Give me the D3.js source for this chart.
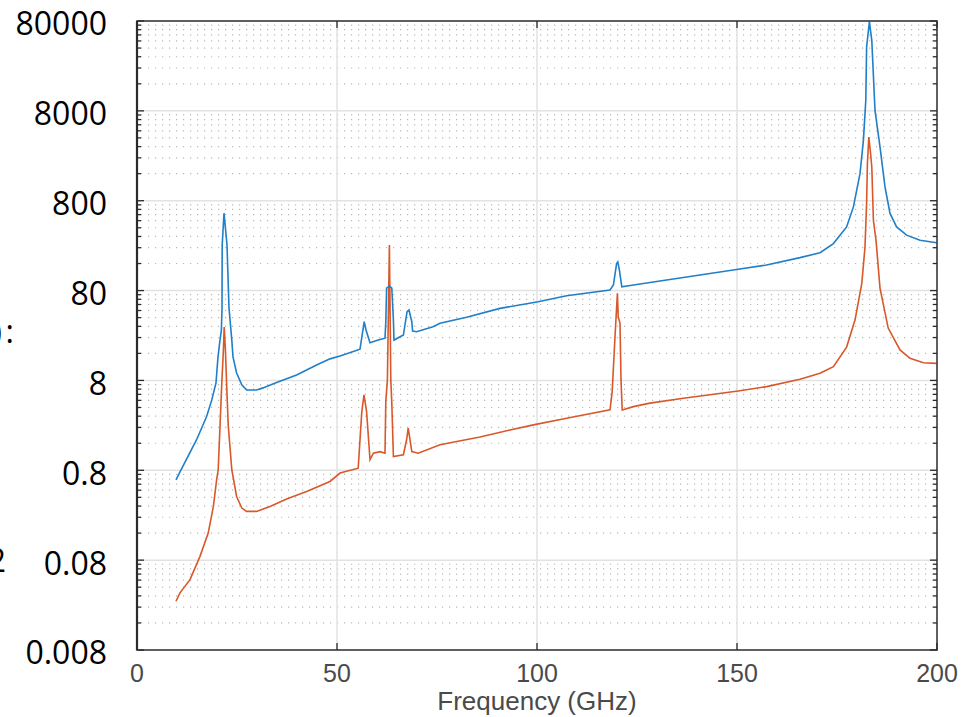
<!DOCTYPE html>
<html>
<head>
    <title>Frequency log chart</title>
    <meta charset="utf-8">
    <style type="text/css">
        body { margin: 0; background: #fff; }
        .ylab { font-family: "Open Sans", sans-serif; font-size: 32px; fill: #000; }
        .xlab { font-family: "Liberation Sans", Arial, sans-serif; font-size: 25px; fill: #4a4a4a; }
        .xtitle { font-family: "Liberation Sans", Arial, sans-serif; font-size: 26px; fill: #4a4a4a; }
        .grid-major { stroke: #e2e2e2; stroke-width: 1.5; }
        .grid-minor { stroke: #b8b8b8; stroke-width: 1.2; stroke-dasharray: 1.2,5.8; }
        .frame { fill: none; stroke: #2b2b2b; stroke-width: 1.5; }
        .tick { stroke: #2b2b2b; stroke-width: 1.3; }
    </style>
</head>
<body>
<svg class="chart" width="968" height="717"></svg>

<script src="https://cdnjs.cloudflare.com/ajax/libs/d3/7.8.5/d3.min.js"></script>
<script type="text/javascript">
    /*=========DATA=========*/
    var xTicks = [0, 50, 100, 150, 200];
    var yTicks = [0.008, 0.08, 0.8, 8, 80, 800, 8000, 80000];
    var yTickLabels = ['0.008', '0.08', '0.8', '8', '80', '800', '8000', '80000'];
    var minorSteps = [2, 3, 4, 5, 6, 7, 8, 9];

    // blue series (upper)
    var blueFreq = [9.75, 10.75, 14.9, 17.4, 18.7, 19.75, 20.25, 20.75, 21.1, 21.25, 21.3, 21.75, 22.5, 23, 23.7, 24,
        24.9, 26.2, 27.4, 29.9, 31.5, 34.9, 39.9, 44.9, 48.25, 50.75, 55.75, 56.8, 57.25, 58.25, 60.3, 62,
        62.2, 62.4, 63.1, 63.7, 64.1, 64.25, 66.6, 67.5, 68, 68.7, 68.9, 69.9, 74, 75.75, 82.4, 90.75,
        100.3, 107.4, 118.25, 119.1, 119.9, 120.2, 120.6, 121.2, 124.1, 132.4, 140.75, 150.3, 157.4, 165.75,
        170.75, 174.1, 177.4, 179.1, 180.75, 181.6, 182.2, 182.4, 183.1, 183.7, 184.5, 185.75, 187, 188.25,
        189.9, 192.4, 195.75, 199.9];
    var blueVals = [0.627, 0.769, 1.75, 3.17, 4.86, 7.5, 14.6, 22.5, 29.1, 51.2, 257, 581, 257, 51.2, 22.5, 14.6,
        9.68, 7.13, 6.27, 6.27, 6.61, 7.57, 9.21, 11.9, 13.9, 15.0, 17.8, 36.0, 29.1, 21.0, 22.5, 23.6,
        36.0, 85.3, 89.8, 85.3, 37.6, 22.5, 25.6, 46.2, 48.6, 36.0, 28.4, 27.9, 31.7, 34.6, 40.3, 50.7,
        60.1, 70.0, 81.1, 92.1, 160, 167, 135, 88.1, 92.1, 105, 119, 138, 154, 186,
        211, 267, 409, 683, 1600, 3760, 10500, 40900, 79000, 48500, 8110, 3170, 1140, 577,
        409, 331, 291, 272];

    // orange series (lower)
    var orangeFreq = [9.75, 10.75, 13.25, 15.75, 17.8, 19.1, 19.9, 20.3, 20.75, 21.2, 21.6, 21.8, 22.1, 22.4, 22.8, 23.7,
        24.9, 26.2, 27.4, 29.9, 33.25, 37.4, 42.4, 48.25, 50.75, 55.3, 56.2, 56.75, 57.4, 58.25, 59.1, 60.75,
        62, 62.2, 62.6, 63.1, 63.45, 63.7, 64.1, 66.6, 67.4, 67.8, 68.25, 68.7, 70.3, 75.75, 85.75, 93.25,
        99.1, 107.4, 118.25, 118.8, 119.5, 120.1, 120.3, 120.75, 121, 121.3, 124.1, 128.25, 136.6, 150.3,
        157.4, 165.75, 170.75, 174.1, 177.4, 179.5, 181.2, 182, 182.4, 182.6, 182.95, 183.4, 183.7, 184.1,
        184.75, 185.75, 187.8, 190.75, 193.25, 196.6, 199.9];
    var orangeVals = [0.0279, 0.0346, 0.0485, 0.0881, 0.160, 0.317, 0.627, 0.811, 2.45, 7.5, 17.5, 31.4, 17.5, 7.5, 2.56, 0.811,
        0.409, 0.304, 0.279, 0.279, 0.317, 0.383, 0.465, 0.601, 0.745, 0.845, 3.6, 5.52, 3.6, 1.05, 1.24, 1.29,
        1.24, 4.65, 8.11, 257, 8.11, 4.47, 1.14, 1.19, 1.75, 2.36, 1.75, 1.29, 1.24, 1.54, 1.88, 2.25,
        2.56, 3.04, 3.76, 6.01, 24.5, 74.5, 40.9, 34.6, 8.11, 3.76, 4.09, 4.47, 5.07, 6.11,
        6.82, 8.24, 9.62, 11.4, 18.8, 37.6, 96.2, 245, 745, 2070, 4090, 2670, 1900, 485,
        291, 85.3, 30.6, 17.5, 14.1, 12.6, 12.4];

    /*===========COLOR=======*/
    var blueColor = '#1f7fc8';
    var orangeColor = '#d9582a';

    /*=========computed============*/
    var plotLeft = 137, plotRight = 937, plotTop = 21, plotBottom = 650;

    var x = d3.scaleLinear().domain([0, 200]).range([plotLeft, plotRight]);
    var y = d3.scaleLog().domain([0.008, 80000]).range([plotBottom, plotTop]);

    var svg = d3.select('svg');

    svg.append('clipPath').attr('id', 'plotClip')
        .append('rect').attr('x', plotLeft).attr('y', plotTop)
        .attr('width', plotRight - plotLeft).attr('height', plotBottom - plotTop);

    // minor values
    var minorVals = [];
    yTicks.slice(0, -1).forEach(function (t) {
        minorSteps.forEach(function (m) { minorVals.push(t * m); });
    });

    // grid
    var grid = svg.append('g');
    grid.selectAll('.grid-minor').data(minorVals).enter().append('line')
        .attr('class', 'grid-minor')
        .attr('x1', plotLeft + 4).attr('x2', plotRight - 4)
        .attr('y1', d => y(d)).attr('y2', d => y(d));
    grid.selectAll('.gy').data(yTicks.slice(1, -1)).enter().append('line')
        .attr('class', 'grid-major gy')
        .attr('x1', plotLeft).attr('x2', plotRight)
        .attr('y1', d => y(d)).attr('y2', d => y(d));
    grid.selectAll('.gx').data(xTicks.slice(1, -1)).enter().append('line')
        .attr('class', 'grid-major gx')
        .attr('y1', plotTop).attr('y2', plotBottom)
        .attr('x1', d => x(d)).attr('x2', d => x(d));

    // lines
    var line = d3.line().x(d => x(d[0])).y(d => y(d[1]));
    var lines = svg.append('g').attr('clip-path', 'url(#plotClip)');
    lines.append('path')
        .attr('d', line(d3.zip(orangeFreq, orangeVals)))
        .attr('fill', 'none').attr('stroke', orangeColor).attr('stroke-width', 1.6);
    lines.append('path')
        .attr('d', line(d3.zip(blueFreq, blueVals)))
        .attr('fill', 'none').attr('stroke', blueColor).attr('stroke-width', 1.6);

    // ticks (inward)
    var ticks = svg.append('g');
    [plotLeft, plotRight].forEach(function (px) {
        var dir = px === plotLeft ? 1 : -1;
        ticks.selectAll(null).data(minorVals).enter().append('line')
            .attr('class', 'tick')
            .attr('x1', px).attr('x2', px + dir * 4)
            .attr('y1', d => y(d)).attr('y2', d => y(d));
        ticks.selectAll(null).data(yTicks).enter().append('line')
            .attr('class', 'tick')
            .attr('x1', px).attr('x2', px + dir * 7)
            .attr('y1', d => y(d)).attr('y2', d => y(d));
    });
    [plotTop, plotBottom].forEach(function (py) {
        var dir = py === plotBottom ? -1 : 1;
        ticks.selectAll(null).data(xTicks).enter().append('line')
            .attr('class', 'tick')
            .attr('y1', py).attr('y2', py + dir * 7)
            .attr('x1', d => x(d)).attr('x2', d => x(d));
    });

    // frame
    svg.append('rect').attr('class', 'frame')
        .attr('x', plotLeft).attr('y', plotTop)
        .attr('width', plotRight - plotLeft).attr('height', plotBottom - plotTop);
    svg.append('line').attr('x1', plotLeft).attr('x2', plotLeft).attr('y1', plotTop).attr('y2', plotBottom)
        .attr('stroke', '#2b2b2b').attr('stroke-width', 2.2);

    // y labels
    svg.selectAll('.ylab').data(yTicks).enter().append('text')
        .attr('class', 'ylab')
        .attr('x', 107).attr('y', d => y(d)).attr('dy', '0.45em')
        .attr('text-anchor', 'end')
        .text((d, i) => yTickLabels[i]);

    // x labels
    svg.selectAll('.xlab').data(xTicks).enter().append('text')
        .attr('class', 'xlab')
        .attr('x', d => x(d)).attr('y', 682)
        .attr('text-anchor', 'middle')
        .text(d => d);

    svg.append('text').attr('class', 'xtitle')
        .attr('x', (plotLeft + plotRight) / 2).attr('y', 710)
        .attr('text-anchor', 'middle')
        .text('Frequency (GHz)');

    // cut-off text at the left edge
    svg.append('text').attr('class', 'ylab')
        .attr('x', 14).attr('y', 343).attr('text-anchor', 'end').text(':');
    svg.append('text').attr('class', 'ylab')
        .attr('x', 2).attr('y', 343).attr('text-anchor', 'end').text(')');
    svg.append('text').attr('class', 'ylab')
        .attr('x', 6).attr('y', 572).attr('text-anchor', 'end').text('2');
</script>
</body>
</html>
